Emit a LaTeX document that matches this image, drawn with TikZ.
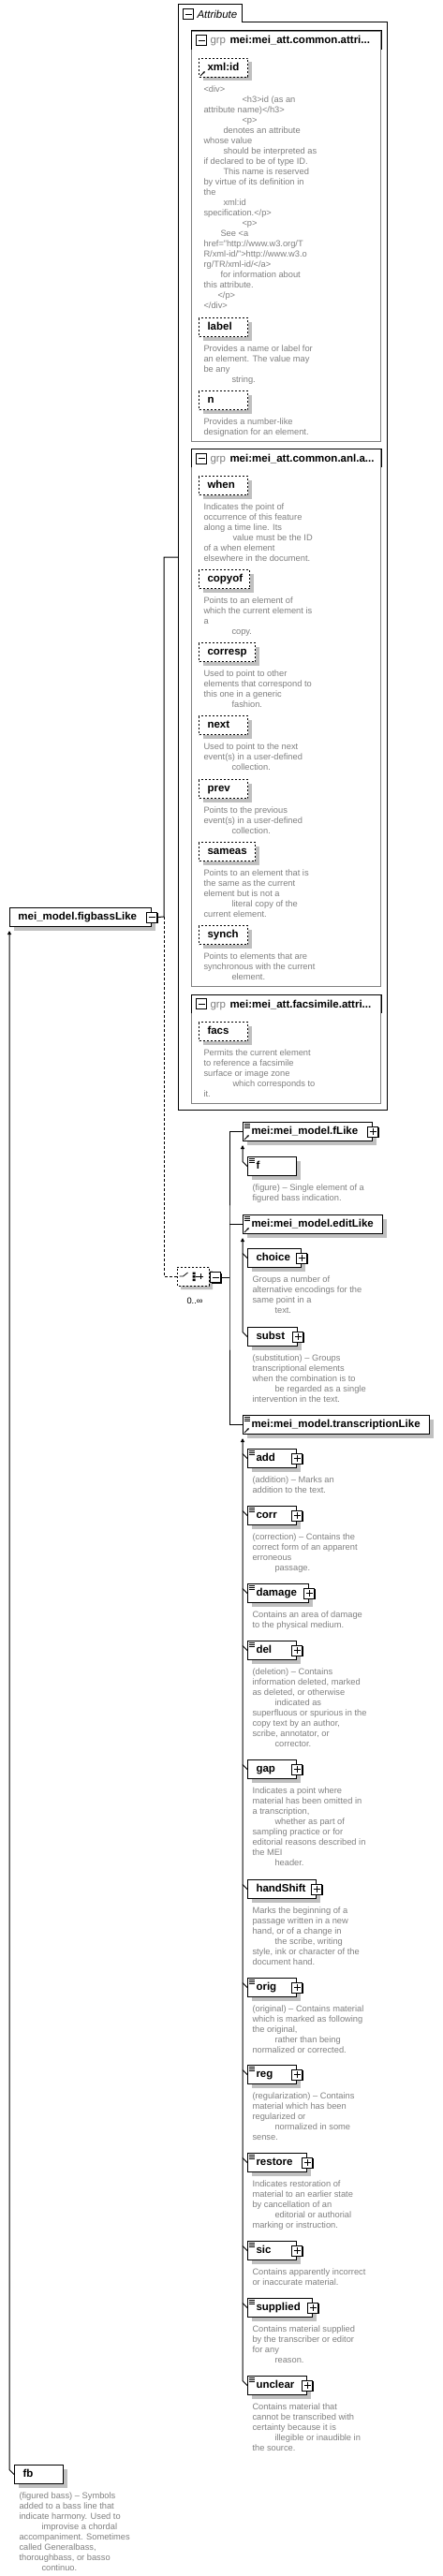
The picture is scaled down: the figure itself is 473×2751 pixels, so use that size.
\documentclass[tikz,border=0pt]{standalone}
\usepackage{fontspec}
\setmainfont{Liberation Sans}
\usetikzlibrary{arrows.meta,shadows,shapes.misc,calc}

\definecolor{shadowgray}{RGB}{192,192,192}
\definecolor{docgray}{RGB}{128,128,128}
\definecolor{grpgray}{RGB}{128,128,128}

\newcommand\elemfont{\fontsize{11.5}{13}\selectfont\bfseries}
\newcommand\docfont{\fontsize{9.3}{11}\selectfont}
\hyphenpenalty=10000

\tikzset{
  attbox/.style={draw, dash pattern=on 2pt off 2pt, fill=white, anchor=north west,
    minimum height=20pt, inner xsep=9pt, inner ysep=0pt, text height=8.5pt, text depth=2.5pt,
    font=\elemfont, align=left,
    drop shadow={shadow xshift=4pt, shadow yshift=-4pt, fill=shadowgray, opacity=1}},
  elbox/.style={attbox, solid},
  docnote/.style={anchor=north west, inner sep=0pt, align=left, font=\docfont, text=docgray},
  grpbox/.style={draw=grpgray, fill=white, anchor=north west, inner sep=0pt},
  grptag/.style={anchor=base west, inner sep=0pt, font=\fontsize{11.5}{13}\selectfont, text=grpgray},
  grpname/.style={anchor=base west, inner sep=0pt, font=\elemfont},
  signbox/.style={draw, fill=white, minimum size=11pt, inner sep=0pt},
  signshadow/.style={drop shadow={shadow xshift=1pt, shadow yshift=-1pt, fill=black, opacity=1}},
  minusbox/.style={signbox,
    path picture={\draw[line width=.9pt] ([xshift=2pt]path picture bounding box.west)
      -- ([xshift=-2pt]path picture bounding box.east);}},
  plusbox/.style={signbox, signshadow,
    path picture={\draw[line width=.9pt] ([xshift=2pt]path picture bounding box.west)
      -- ([xshift=-2pt]path picture bounding box.east)
      ([yshift=-2pt]path picture bounding box.north) -- ([yshift=2pt]path picture bounding box.south);}},
  compbox/.style={chamfered rectangle, chamfered rectangle xsep=4pt, chamfered rectangle ysep=4pt,
    draw, dash pattern=on 2pt off 2pt, fill=white, minimum width=34pt, minimum height=20pt, inner sep=0pt,
    drop shadow={shadow xshift=4pt, shadow yshift=-4pt, fill=shadowgray, opacity=1}},
  uplink/.style={-{Triangle[length=4pt,width=4pt]}},
}

% small marks inside the boxes
\newcommand\docicon[1]{\draw[line width=.8pt] (#1.north west) ++(2,2) -- ++(6,0) ++(-6,2) -- ++(6,0) ++(-6,2) -- ++(6,0);}
\newcommand\refmark[1]{\draw[line width=.8pt,-{Latex[length=2.5pt,width=2.5pt]}] (#1.south west) ++(2,-2) -- ++(5,-5);}

\begin{document}
\begin{tikzpicture}[x=1pt,y=-1pt,line width=1pt]
\useasboundingbox (0,0) rectangle (473,2751);

% attribute container
\draw (190,5) -- (258,5) -- (258,24) -- (413,24) -- (413,1185) -- (190,1185) -- cycle;
\node[minusbox] (attr-minus) at (201,15.5) {};
\node[anchor=base west, inner sep=0pt, font=\fontsize{11.5}{13}\selectfont\itshape] (attr-tab) at (210,20) {Attribute};
\coordinate (attrin) at (190,595);

\node[grpbox, minimum width=202pt, minimum height=438pt] (grp1) at (204,33) {};
\draw (grp1.north west) ++(0,20) |- (grp1.north east) -- ++(0,20);
\node[minusbox] (grp1-minus) at (215,43.5) {};
\node[grptag] (grp1-tag) at (224,47) {grp};
\node[grpname] (grp1-name) at (245,47) {mei:mei\_att.common.attri...};

\node[grpbox, minimum width=202pt, minimum height=574pt] (grp2) at (204,479) {};
\draw (grp2.north west) ++(0,20) |- (grp2.north east) -- ++(0,20);
\node[minusbox] (grp2-minus) at (215,489.5) {};
\node[grptag] (grp2-tag) at (224,493) {grp};
\node[grpname] (grp2-name) at (245,493) {mei:mei\_att.common.anl.a...};

\node[grpbox, minimum width=202pt, minimum height=116pt] (grp3) at (204,1062) {};
\draw (grp3.north west) ++(0,20) |- (grp3.north east) -- ++(0,20);
\node[minusbox] (grp3-minus) at (215,1072) {};
\node[grptag] (grp3-tag) at (224,1076) {grp};
\node[grpname] (grp3-name) at (245,1076) {mei:mei\_att.facsimile.attri...};

\node[attbox, text width=34pt] (xmlid) at (212,62) {xml:id};
\refmark{xmlid}
\node[docnote] (xmlid-doc) at (217,90) {\strut<div>\\
\hspace*{41pt}<h3>id (as an\\
attribute name)</h3>\\
\hspace*{41pt}<p>\\
\hspace*{21pt}denotes an attribute\\
whose value\\
\hspace*{21pt}should be interpreted as\\
if declared to be of type ID.\\
\hspace*{21pt}This name is reserved\\
by virtue of its definition in\\
the\\
\hspace*{21pt}xml:id\\
specification.</p>\\
\hspace*{41pt}<p>\\
\hspace*{18pt}See <a\\
href="http://www.w3.org/T\\
R/xml-id/">http://www.w3.o\\
rg/TR/xml-id/</a>\\
\hspace*{18pt}for information about\\
this attribute.\\
\hspace*{15pt}</p>\\
</div>};

\node[attbox, text width=34pt] (label) at (212,339) {label};
\node[docnote] (label-doc) at (217,367) {\strut Provides a name or label for\\
an element. The value may\\
be any\\
\hspace*{30pt}string.};

\node[attbox, text width=34pt] (n) at (212,417) {n};
\node[docnote] (n-doc) at (217,445) {\strut Provides a number-like\\
designation for an element.};

\node[attbox, text width=34pt] (when) at (212,508) {when};
\node[docnote] (when-doc) at (217,536) {\strut Indicates the point of\\
occurrence of this feature\\
along a time line. Its\\
\hspace*{31pt}value must be the ID\\
of a when element\\
elsewhere in the document.};

\node[attbox, text width=36pt] (copyof) at (212,608) {copyof};
\node[docnote] (copyof-doc) at (217,636) {\strut Points to an element of\\
which the current element is\\
a\\
\hspace*{30pt}copy.};

\node[attbox, text width=42pt] (corresp) at (212,686) {corresp};
\node[docnote] (corresp-doc) at (217,714) {\strut Used to point to other\\
elements that correspond to\\
this one in a generic\\
\hspace*{30pt}fashion.};

\node[attbox, text width=34pt] (next) at (212,764) {next};
\node[docnote] (next-doc) at (217,792) {\strut Used to point to the next\\
event(s) in a user-defined\\
\hspace*{30pt}collection.};

\node[attbox, text width=34pt] (prev) at (212,832) {prev};
\node[docnote] (prev-doc) at (217,860) {\strut Points to the previous\\
event(s) in a user-defined\\
\hspace*{30pt}collection.};

\node[attbox, text width=42pt] (sameas) at (212,899) {sameas};
\node[docnote] (sameas-doc) at (217,927) {\strut Points to an element that is\\
the same as the current\\
element but is not a\\
\hspace*{30pt}literal copy of the\\
current element.};

\node[attbox, text width=34pt] (synch) at (212,988) {synch};
\node[docnote] (synch-doc) at (217,1016) {\strut Points to elements that are\\
synchronous with the current\\
\hspace*{30pt}element.};

\node[attbox, text width=34pt] (facs) at (212,1091) {facs};
\node[docnote] (facs-doc) at (217,1119) {\strut Permits the current element\\
to reference a facsimile\\
surface or image zone\\
\hspace*{31pt}which corresponds to\\
it.};

% the group itself
\node[elbox, text width=133pt] (figbass) at (10,969) {mei\_model.figbassLike};
\node[minusbox, signshadow] (figbass-minus) at (figbass.east) {};
\coordinate (fork) at (175,979);
\draw (figbass-minus.east) -- (fork) |- (attrin);

\node[compbox] (comp) at (206,1363) {};
\draw[line width=.8pt] (comp.west) ++(3,0) -- ++(4,0) -- ++(5,-4);
\fill (205.5,1358.5) rectangle ++(3,2.5) (205.5,1362) rectangle ++(3,2.5) (205.5,1365.5) rectangle ++(3,2.5);
\draw[line width=.8pt] (209,1363) -- (217,1363) (214,1360) -- (214,1366);
\node[minusbox, signshadow] (comp-minus) at (230,1364) {};
\node[anchor=base, inner sep=0pt, font=\docfont] (comp-mult) at (208,1392) {0..∞};
\draw[dash pattern=on 3pt off 2pt] (fork) |- (comp.west);
\coordinate (bus) at (245,1364);
\draw (comp-minus.east) -- (bus);

\node[elbox, text width=120pt] (fLike) at (259,1198) {mei:mei\_model.fLike};
\docicon{fLike} \refmark{fLike}
\node[plusbox] (fLike-plus) at (fLike.east) {};
\node[elbox, text width=34pt] (f) at (264,1235) {f};
\docicon{f}
\node[docnote] (f-doc) at (269,1263) {\strut(figure) – Single element of a\\
figured bass indication.};
\draw[uplink] (f.west) -- ++(-5,-5) -- ($(fLike.south west)+(0,4)$);

\node[elbox, text width=131pt] (editLike) at (259,1297) {mei:mei\_model.editLike};
\docicon{editLike} \refmark{editLike}
\node[elbox, text width=39pt] (choice) at (264,1333) {choice};
\node[plusbox] (choice-plus) at (choice.east) {};
\node[docnote] (choice-doc) at (269,1361) {\strut Groups a number of\\
alternative encodings for the\\
same point in a\\
\hspace*{24pt}text.};
\node[elbox, text width=35pt] (subst) at (264,1417) {subst};
\node[plusbox] (subst-plus) at (subst.east) {};
\node[docnote] (subst-doc) at (269,1445) {\strut(substitution) – Groups\\
transcriptional elements\\
when the combination is to\\
\hspace*{24pt}be regarded as a single\\
intervention in the text.};
\draw (choice.west) -- ++(-5,-5);
\draw[uplink] (subst.west) -- ++(-5,-5) -- ($(editLike.south west)+(0,4)$);

\node[elbox, text width=181pt] (trLike) at (259,1511) {mei:mei\_model.transcriptionLike};
\docicon{trLike} \refmark{trLike}

\draw (fLike.west) -| (bus) |- (trLike.west);
\draw (editLike.west) -- (editLike.west -| bus);

\node[elbox, text width=34pt] (add) at (264,1547) {add};
\node[docnote] (add-doc) at (269,1575) {\strut(addition) – Marks an\\
addition to the text.};

\node[elbox, text width=34pt] (corr) at (264,1608) {corr};
\node[docnote] (corr-doc) at (269,1636) {\strut(correction) – Contains the\\
correct form of an apparent\\
erroneous\\
\hspace*{24pt}passage.};

\node[elbox, text width=47pt] (damage) at (264,1691) {damage};
\node[docnote] (damage-doc) at (269,1719) {\strut Contains an area of damage\\
to the physical medium.};

\node[elbox, text width=34pt] (del) at (264,1752) {del};
\node[docnote] (del-doc) at (269,1780) {\strut(deletion) – Contains\\
information deleted, marked\\
as deleted, or otherwise\\
\hspace*{24pt}indicated as\\
superfluous or spurious in the\\
copy text by an author,\\
scribe, annotator, or\\
\hspace*{24pt}corrector.};

\node[elbox, text width=34pt] (gap) at (264,1879) {gap};
\node[docnote] (gap-doc) at (269,1907) {\strut Indicates a point where\\
material has been omitted in\\
a transcription,\\
\hspace*{24pt}whether as part of\\
sampling practice or for\\
editorial reasons described in\\
the MEI\\
\hspace*{24pt}header.};

\node[elbox, text width=55pt] (handShift) at (264,2007) {handShift};
\node[docnote] (handShift-doc) at (269,2035) {\strut Marks the beginning of a\\
passage written in a new\\
hand, or of a change in\\
\hspace*{24pt}the scribe, writing\\
style, ink or character of the\\
document hand.};

\node[elbox, text width=34pt] (orig) at (264,2112) {orig};
\node[docnote] (orig-doc) at (269,2140) {\strut(original) – Contains material\\
which is marked as following\\
the original,\\
\hspace*{24pt}rather than being\\
normalized or corrected.};

\node[elbox, text width=34pt] (reg) at (264,2205) {reg};
\node[docnote] (reg-doc) at (269,2233) {\strut(regularization) – Contains\\
material which has been\\
regularized or\\
\hspace*{24pt}normalized in some\\
sense.};

\node[elbox, text width=45pt] (restore) at (264,2299) {restore};
\node[docnote] (restore-doc) at (269,2327) {\strut Indicates restoration of\\
material to an earlier state\\
by cancellation of an\\
\hspace*{24pt}editorial or authorial\\
marking or instruction.};

\node[elbox, text width=34pt] (sic) at (264,2393) {sic};
\node[docnote] (sic-doc) at (269,2421) {\strut Contains apparently incorrect\\
or inaccurate material.};

\node[elbox, text width=51pt] (supplied) at (264,2454) {supplied};
\node[docnote] (supplied-doc) at (269,2482) {\strut Contains material supplied\\
by the transcriber or editor\\
for any\\
\hspace*{24pt}reason.};

\node[elbox, text width=45pt] (unclear) at (264,2537) {unclear};
\node[docnote] (unclear-doc) at (269,2565) {\strut Contains material that\\
cannot be transcribed with\\
certainty because it is\\
\hspace*{24pt}illegible or inaudible in\\
the source.};

\foreach \el in {add,corr,damage,del,orig,reg,restore,sic,supplied,unclear}
  \docicon{\el};
\foreach \el in {add,corr,damage,del,gap,handShift,orig,reg,restore,sic,supplied,unclear}
  \node[plusbox] (\el-plus) at (\el.east) {};
\foreach \el in {add,corr,damage,del,gap,handShift,orig,reg,restore,sic,supplied}
  \draw (\el.west) -- ++(-5,-5);
\draw[uplink] (unclear.west) -- ++(-5,-5) -- ($(trLike.south west)+(0,4)$);

\node[elbox, text width=34pt] (fb) at (15,2632) {fb};
\node[docnote] (fb-doc) at (20,2660) {\strut(figured bass) – Symbols\\
added to a bass line that\\
indicate harmony. Used to\\
\hspace*{24pt}improvise a chordal\\
accompaniment. Sometimes\\
called Generalbass,\\
thoroughbass, or basso\\
\hspace*{24pt}continuo.};
\draw[uplink] (fb.west) -- ++(-5,-5) -- ($(figbass.south west)+(0,4)$);
\end{tikzpicture}
\end{document}
